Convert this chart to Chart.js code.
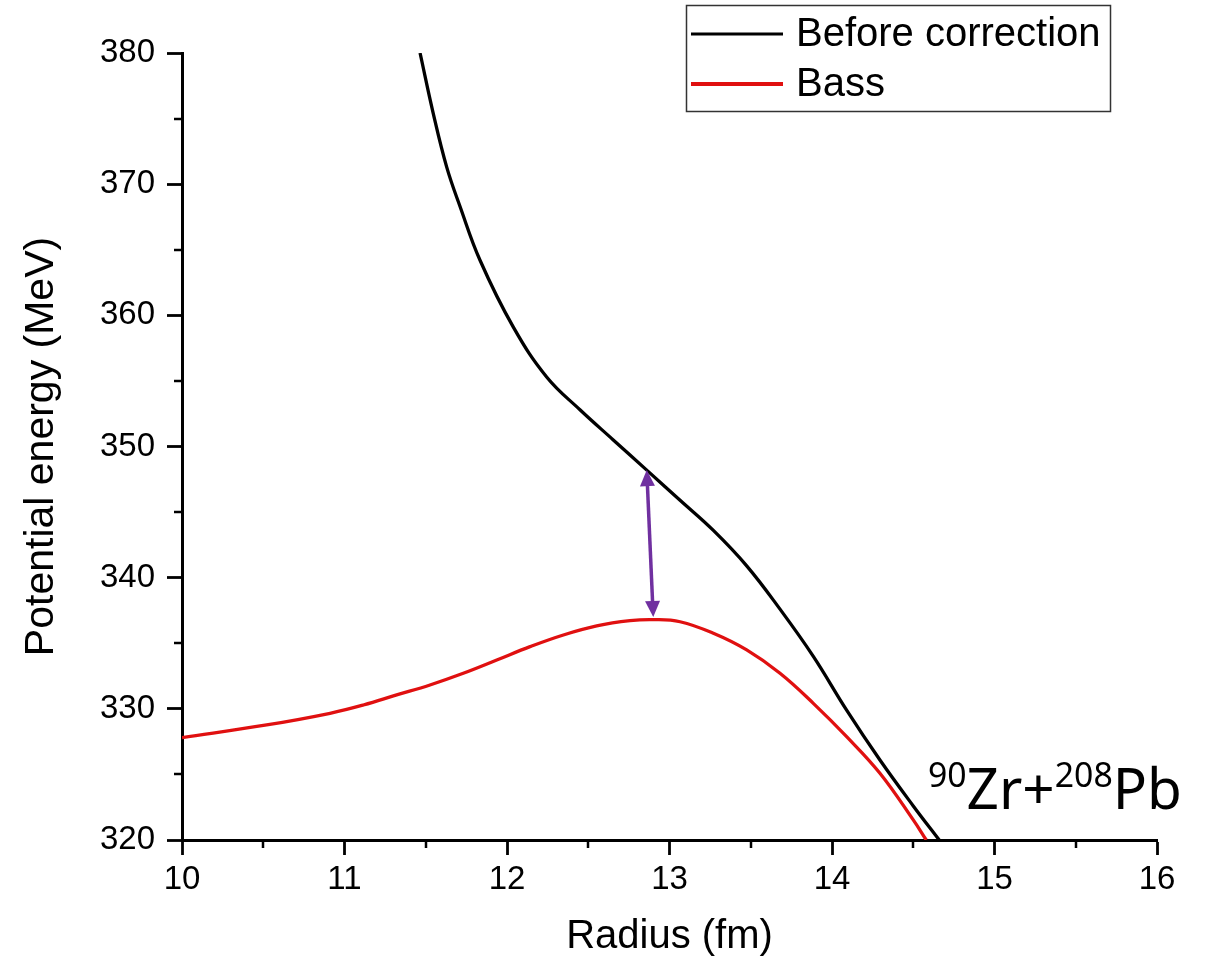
<!DOCTYPE html>
<html><head><meta charset="utf-8">
<script src="https://cdn.jsdelivr.net/npm/chart.js@4.4.0/dist/chart.umd.min.js"></script>
<style>html,body{margin:0;padding:0;background:#fff;overflow:hidden}#c{display:block}</style>
</head><body>
<canvas id="c" width="1206" height="964"></canvas>
<script>
// ---- data ----
const seriesLabels = ['Before correction', 'Bass'];
const radiusBefore = [11.465, 11.546, 11.629, 11.711, 11.834, 12.039, 12.244, 12.449, 12.654, 12.860, 13.065, 13.270, 13.475, 13.680, 13.885, 14.090, 14.295, 14.500, 14.660];
const energyBefore = [380.0, 375.4, 371.3, 368.3, 364.2, 359.1, 355.3, 352.8, 350.5, 348.2, 345.9, 343.6, 340.9, 337.6, 334.0, 329.9, 326.1, 322.6, 320.0];
const radiusBass = [10.000, 10.521, 10.911, 11.116, 11.321, 11.526, 11.731, 11.937, 12.142, 12.347, 12.552, 12.757, 12.900, 13.065, 13.270, 13.475, 13.680, 13.885, 14.090, 14.295, 14.500, 14.580];
const energyBass = [327.8, 328.77, 329.66, 330.29, 331.06, 331.82, 332.71, 333.72, 334.74, 335.63, 336.32, 336.72, 336.80, 336.64, 335.76, 334.49, 332.71, 330.42, 327.88, 325.09, 321.53, 320.0];
const xTickValues = [10, 11, 12, 13, 14, 15, 16];
const yTickValues = [320, 330, 340, 350, 360, 370, 380];
const xMinorValues = [10.5, 11.5, 12.5, 13.5, 14.5, 15.5];
const yMinorValues = [325, 335, 345, 355, 365, 375];
const arrowRadius = [12.86, 12.90];
const arrowEnergy = [348.2, 337.0];
const systemParts = [['90', true], ['Zr+', false], ['208', true], ['Pb', false]];
const systemAnchor = [14.59, 322.4];

const BLACK = '#000000';
const RED = '#e01010';
const PURPLE = '#7030a0';
const ARIAL = '"Liberation Sans", Arial, sans-serif';

function pts(xs, ys) { return xs.map((x, i) => ({ x: x, y: ys[i] })); }

const extras = {
  id: 'extras',
  afterDraw(chart) {
    const ctx = chart.ctx;
    const xs = chart.scales.x, ys = chart.scales.y;
    const area = chart.chartArea;
    ctx.save();
    // minor ticks
    ctx.strokeStyle = BLACK; ctx.lineWidth = 2.5;
    xMinorValues.forEach(v => {
      const px = Math.round(xs.getPixelForValue(v));
      ctx.beginPath(); ctx.moveTo(px, area.bottom); ctx.lineTo(px, area.bottom + 8); ctx.stroke();
    });
    yMinorValues.forEach(v => {
      const py = Math.round(ys.getPixelForValue(v));
      ctx.beginPath(); ctx.moveTo(area.left, py); ctx.lineTo(area.left - 8, py); ctx.stroke();
    });
    // double arrow
    const x1 = xs.getPixelForValue(arrowRadius[0]), y1 = ys.getPixelForValue(arrowEnergy[0]);
    const x2 = xs.getPixelForValue(arrowRadius[1]), y2 = ys.getPixelForValue(arrowEnergy[1]);
    const ang = Math.atan2(y2 - y1, x2 - x1);
    const hl = 16, hw = 7.5;
    ctx.strokeStyle = PURPLE; ctx.fillStyle = PURPLE; ctx.lineWidth = 3.5;
    ctx.beginPath();
    ctx.moveTo(x1 + Math.cos(ang) * hl * 0.8, y1 + Math.sin(ang) * hl * 0.8);
    ctx.lineTo(x2 - Math.cos(ang) * hl * 0.8, y2 - Math.sin(ang) * hl * 0.8);
    ctx.stroke();
    function head(tx, ty, a) {
      ctx.beginPath();
      ctx.moveTo(tx, ty);
      ctx.lineTo(tx - Math.cos(a) * hl - Math.sin(a) * hw, ty - Math.sin(a) * hl + Math.cos(a) * hw);
      ctx.lineTo(tx - Math.cos(a) * hl + Math.sin(a) * hw, ty - Math.sin(a) * hl - Math.cos(a) * hw);
      ctx.closePath(); ctx.fill();
    }
    head(x2, y2, ang);
    head(x1, y1, ang + Math.PI);
    // legend box
    ctx.strokeStyle = '#333'; ctx.lineWidth = 1.5;
    ctx.strokeRect(686.5, 5.5, 424, 106);
    const legendColors = [BLACK, RED];
    const legendY = [34, 84];
    seriesLabels.forEach((lab, i) => {
      ctx.strokeStyle = legendColors[i]; ctx.lineWidth = i === 0 ? 3.2 : 4;
      ctx.beginPath(); ctx.moveTo(691, legendY[i]); ctx.lineTo(783, legendY[i]); ctx.stroke();
      ctx.fillStyle = BLACK; ctx.font = '40px ' + ARIAL;
      ctx.textBaseline = 'middle'; ctx.textAlign = 'left';
      ctx.fillText(lab, 796, legendY[i] + 1);
    });
    // system label
    const big = '57px "Noto Sans", "Open Sans", sans-serif';
    const small = '34px "Noto Sans", "Open Sans", sans-serif';
    let total = 0;
    systemParts.forEach(p => { ctx.font = p[1] ? small : big; total += ctx.measureText(p[0]).width; });
    const k = 254 / total;
    const ax = xs.getPixelForValue(systemAnchor[0]);
    const ay = ys.getPixelForValue(systemAnchor[1]);
    ctx.translate(ax, ay);
    ctx.scale(k, 1);
    ctx.textBaseline = 'alphabetic'; ctx.textAlign = 'left'; ctx.fillStyle = BLACK;
    let cx = 0;
    systemParts.forEach(p => {
      ctx.font = p[1] ? small : big;
      ctx.fillText(p[0], cx, p[1] ? -22 : 0);
      cx += ctx.measureText(p[0]).width;
    });
    ctx.restore();
  }
};

new Chart(document.getElementById('c'), {
  type: 'line',
  data: {
    datasets: [
      { label: seriesLabels[0], data: pts(radiusBefore, energyBefore), borderColor: BLACK, borderWidth: 3.3, pointRadius: 0, tension: 0.4, fill: false },
      { label: seriesLabels[1], data: pts(radiusBass, energyBass), borderColor: RED, borderWidth: 3.3, pointRadius: 0, tension: 0.4, fill: false }
    ]
  },
  options: {
    responsive: false,
    animation: false,
    layout: { padding: { top: 53, right: 49, bottom: 0, left: 0 } },
    plugins: { legend: { display: false }, tooltip: { enabled: false } },
    scales: {
      x: {
        type: 'linear', position: 'bottom', min: 10, max: 16,
        afterBuildTicks: s => { s.ticks = xTickValues.map(v => ({ value: v })); },
        afterFit: s => { s.height = 124; },
        ticks: { color: BLACK, font: { family: ARIAL, size: 33 }, padding: 5, maxRotation: 0 },
        grid: { drawOnChartArea: false, drawTicks: true, tickLength: 15, tickWidth: 2.8, tickColor: BLACK },
        border: { display: true, color: BLACK, width: 3 },
        title: { display: true, text: 'Radius (fm)', color: BLACK, font: { family: ARIAL, size: 40 }, padding: { top: 0, bottom: 3 } }
      },
      y: {
        type: 'linear', position: 'left', min: 320, max: 380,
        afterBuildTicks: s => { s.ticks = yTickValues.map(v => ({ value: v })); },
        afterFit: s => { s.width = 182; },
        ticks: { color: BLACK, font: { family: ARIAL, size: 33 }, padding: 12 },
        grid: { drawOnChartArea: false, drawTicks: true, tickLength: 15, tickWidth: 2.8, tickColor: BLACK },
        border: { display: true, color: BLACK, width: 3 },
        title: { display: true, text: 'Potential energy (MeV)', color: BLACK, font: { family: ARIAL, size: 41 }, padding: { top: 17, bottom: 0 } }
      }
    }
  },
  plugins: [extras]
});
</script>
</body></html>
